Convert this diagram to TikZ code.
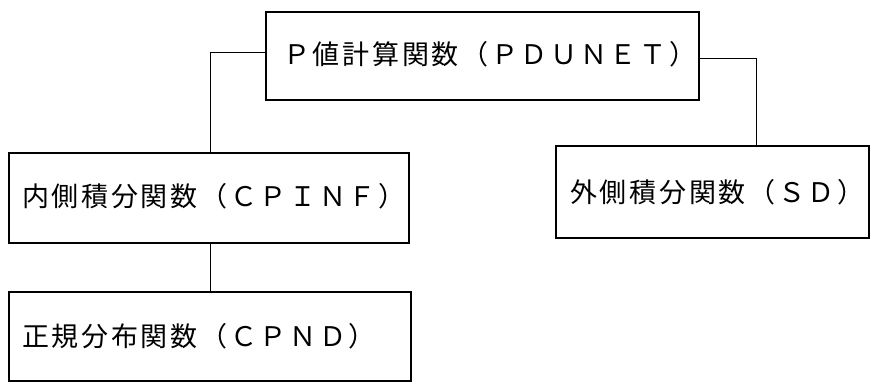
\documentclass[tikz,border=0pt]{standalone}
\usepackage{fontspec}
\newfontfamily\cjk[LetterSpace=10]{Noto Sans CJK JP}
\begin{document}
\begin{tikzpicture}[x=1pt,y=-1pt,
  box/.style={draw=black,line width=1.8pt,rectangle,inner sep=0pt,anchor=north west},
  lbl/.style={anchor=west,inner sep=0pt,font=\cjk\fontsize{27}{30}\selectfont},
  conn/.style={draw=black,line width=1pt}]
\useasboundingbox (0,0) rectangle (871,381);
\fill[white] (0,0) rectangle (871,381);
\node[box,minimum width=433pt,minimum height=88pt] (top) at (265,11) {};
\node[box,minimum width=400pt,minimum height=90pt] (inner) at (8,152) {};
\node[box,minimum width=313pt,minimum height=92pt] (outer) at (555,145) {};
\node[box,minimum width=402pt,minimum height=89pt] (normal) at (8,291) {};
\node[lbl] (ttop) at (283,54) {Ｐ値計算関数（ＰＤＵＮＥＴ）};
\node[lbl] (tinner) at (22,196) {内側積分関数（ＣＰＩＮＦ）};
\node[lbl] (touter) at (570,192) {外側積分関数（ＳＤ）};
\node[lbl] (tnormal) at (22,336) {正規分布関数（ＣＰＮＤ）};
\draw[conn] ([yshift=3pt]top.west) -| ([xshift=2pt]inner.north);
\draw[conn] ([yshift=-3pt]top.east) -| ([xshift=44.5pt]outer.north);
\draw[conn] ([xshift=2pt]inner.south) -- ([xshift=1pt]normal.north);
\end{tikzpicture}
\end{document}
